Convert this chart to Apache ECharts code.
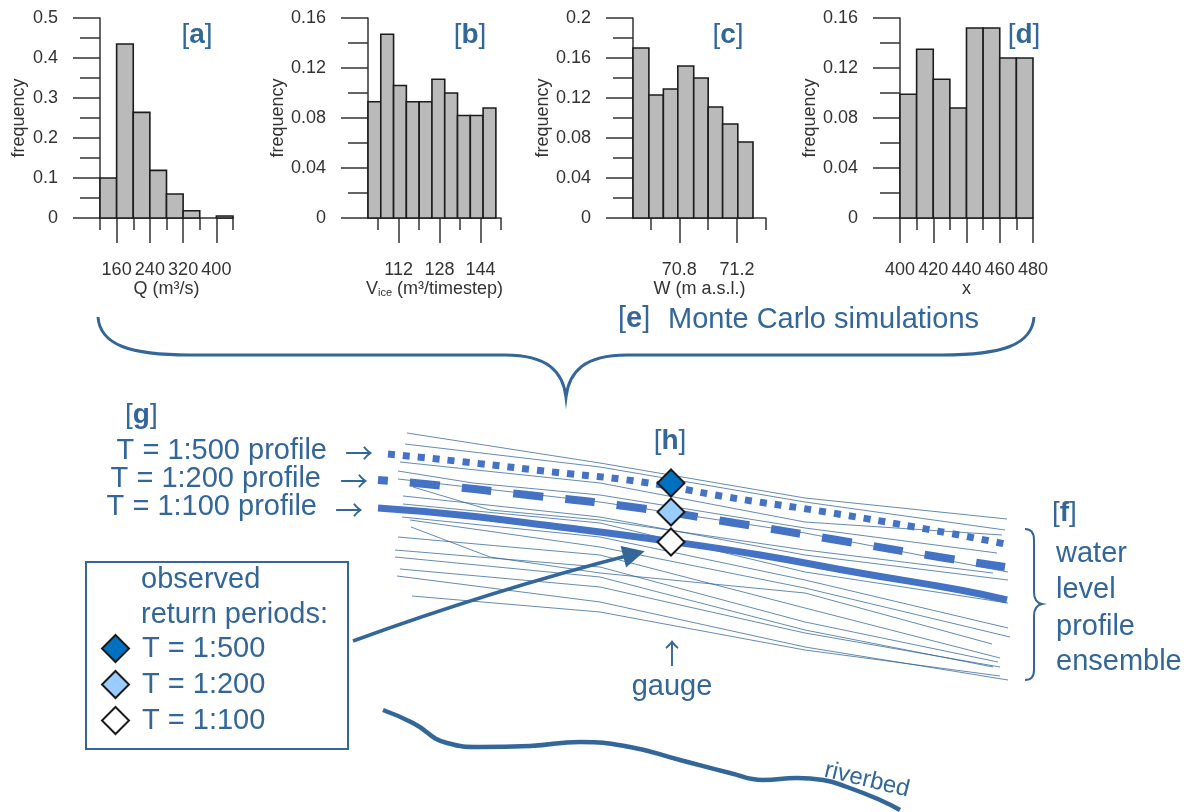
<!DOCTYPE html>
<html>
<head>
<meta charset="utf-8">
<script src="https://cdn.jsdelivr.net/npm/echarts@6/dist/echarts.min.js"></script>
<style>
html, body { margin: 0; padding: 0; background: #fff; }
#main { width: 1186px; height: 812px; }
</style>
</head>
<body>
<div id="main"></div>
<script>
// histogram bins: [from, to, frequency]
const binsQ = [[120, 160, 0.100], [160, 200, 0.435], [200, 240, 0.264], [240, 280, 0.119], [280, 320, 0.060], [320, 360, 0.018], [360, 400, 0], [400, 440, 0.005]];
const binsV = [[100, 105, 0.093], [105, 110, 0.147], [110, 115, 0.106], [115, 120, 0.093], [120, 125, 0.093], [125, 130, 0.111], [130, 135, 0.100], [135, 140, 0.082], [140, 145, 0.082], [145, 150, 0.088]];
const binsW = [[70.48, 70.59, 0.170], [70.59, 70.69, 0.123], [70.69, 70.79, 0.129], [70.79, 70.90, 0.152], [70.90, 71.00, 0.140], [71.00, 71.10, 0.111], [71.10, 71.205, 0.094], [71.205, 71.31, 0.076]];
const binsX = [[400, 410, 0.099], [410, 420, 0.135], [420, 430, 0.111], [430, 440, 0.088], [440, 450, 0.152], [450, 460, 0.152], [460, 470, 0.128], [470, 480, 0.128]];

// x ticks: labelled (long) and unlabelled (short)
const majorQ = [160, 240, 320, 400];
const minorQ = [120, 200, 280, 360, 440];
const majorV = [112, 128, 144];
const minorV = [104, 120, 136, 152];
const majorW = [70.8, 71.2];
const minorW = [70.6, 71.0, 71.4];
const majorX = [400, 420, 440, 460, 480];
const minorX = [410, 430, 450, 470];

// schematic (diagram units = pixels of the sketch, y downwards)
const ENSEMBLE = [
  [[407, 433], [600, 463], [805, 498], [1007, 519]],
  [[405, 444], [600, 467], [805, 502], [1005, 530]],
  [[400, 462], [600, 483], [805, 522], [1002, 535]],
  [[398, 471], [473, 483], [600, 495], [805, 528], [997, 553]],
  [[398, 479], [600, 502], [805, 533], [1008, 572]],
  [[413, 487], [490, 510], [600, 520], [805, 550], [993, 573]],
  [[403, 496], [600, 517], [805, 555], [1008, 580]],
  [[403, 504], [600, 523], [805, 572], [1008, 603]],
  [[402, 517], [600, 537], [805, 580], [1008, 628]],
  [[410, 520], [600, 547], [805, 588], [1010, 637]],
  [[411, 527], [490, 557], [600, 573], [805, 593], [992, 644]],
  [[398, 537], [600, 555], [805, 608], [1000, 658]],
  [[395, 550], [600, 567], [805, 622], [998, 662]],
  [[395, 557], [600, 577], [805, 630], [993, 667]],
  [[400, 569], [600, 587], [805, 633], [1000, 667]],
  [[397, 576], [600, 602], [805, 647], [1008, 680]],
  [[412, 596], [600, 612], [805, 650], [1000, 676]]
];
const profile500 = [[388, 454], [465, 462], [553, 472], [642, 482], [727, 497], [832, 513], [948, 533], [1010, 545]];
const profile200 = [[378, 480], [425, 484], [528, 495], [632, 507], [735, 523], [837, 540], [939, 557], [1005, 567]];
const profile100 = [[378, 508], [460, 515], [560, 527], [660, 540], [760, 555], [860, 573], [960, 590], [1007, 600]];
const obs500 = [[671, 483]];
const obs200 = [[671, 512]];
const obs100 = [[671, 542]];
const riverbed = [[383, 710], [413, 723], [447, 743], [480, 747], [530, 746], [580, 742], [630, 747], [680, 760], [730, 773], [763, 780], [797, 778], [823, 780], [847, 787], [880, 800], [900, 810]];
const pointer = [[353, 641], [634, 554]];
const BRACES = [
  [['M', 98, 317], ['C', 100, 345, 130, 355, 190, 355], ['L', 505, 355], ['C', 548, 355, 563, 372, 566, 397],
   ['C', 569, 372, 584, 355, 627, 355], ['L', 942, 355], ['C', 1002, 355, 1032, 345, 1034, 317]],
  [['M', 1025, 529], ['C', 1031, 529, 1034, 532, 1034, 540], ['L', 1034, 592], ['C', 1034, 600, 1037, 603, 1042, 604],
   ['C', 1037, 605, 1034, 608, 1034, 616], ['L', 1034, 670], ['C', 1034, 677, 1031, 680, 1025, 680]]
];

const BLUE = '#336699';
const LINEBLUE = '#4472c4';
const AX = '#333';
const FONT = '"Liberation Sans", Arial, "DejaVu Sans", sans-serif';
const ARROWFONT = '"Noto Sans CJK JP", "DejaVu Sans", sans-serif';

const panels = [
  { left: 100, xmin: 120, xmax: 440, ymax: 0.5, yint: 0.1, bins: binsQ, major: majorQ, minor: minorQ, name: 'Q (m³/s)', yGap: 72 },
  { left: 368, xmin: 100, xmax: 152, ymax: 0.16, yint: 0.04, bins: binsV, major: majorV, minor: minorV, name: 'V{s|ice} (m³/timestep)', yGap: 75 },
  { left: 633, xmin: 70.48, xmax: 71.4, ymax: 0.2, yint: 0.04, bins: binsW, major: majorW, minor: minorW, name: 'W (m a.s.l.)', yGap: 80 },
  { left: 900, xmin: 400, xmax: 480, ymax: 0.16, yint: 0.04, bins: binsX, major: majorX, minor: minorX, name: 'x', yGap: 81 }
];

const axLine = { color: AX, width: 1.5 };
const grid = [], xAxis = [], yAxis = [], series = [];

function barItem(params, api) {
  const a = api.coord([api.value(0), api.value(2)]);
  const b = api.coord([api.value(1), 0]);
  return {
    type: 'rect',
    shape: { x: a[0], y: a[1], width: b[0] - a[0], height: b[1] - a[1] },
    style: { fill: '#bababa', stroke: '#1c1c1c', lineWidth: 1.6 }
  };
}

panels.forEach((p, i) => {
  grid.push({ left: p.left, top: 18, width: 133, height: 200, containLabel: false, outerBoundsMode: 'none' });
  xAxis.push({
    type: 'value', gridIndex: i, position: 'bottom', min: p.xmin, max: p.xmax,
    axisLine: { show: true, onZero: false, lineStyle: axLine },
    axisTick: { show: true, length: 12, customValues: p.minor, lineStyle: axLine },
    axisLabel: { customValues: p.major, margin: 43, fontSize: 18, fontFamily: FONT, color: AX },
    splitLine: { show: false },
    name: p.name, nameLocation: 'middle', nameGap: 60,
    nameTextStyle: { fontSize: 18, fontFamily: FONT, color: AX, rich: { s: { fontSize: 11, fontFamily: FONT, color: AX, padding: [9, 0, 0, 0] } } }
  });
  xAxis.push({
    type: 'value', gridIndex: i, position: 'bottom', min: p.xmin, max: p.xmax,
    axisLine: { show: false },
    axisTick: { show: true, length: 25, customValues: p.major, lineStyle: axLine },
    axisLabel: { show: false },
    splitLine: { show: false }
  });
  yAxis.push({
    type: 'value', gridIndex: i, min: 0, max: p.ymax, interval: p.yint,
    axisLine: { show: true, lineStyle: axLine },
    axisTick: { show: true, length: 27, lineStyle: axLine },
    minorTick: { show: true, splitNumber: 2, length: 20, lineStyle: axLine },
    axisLabel: { margin: 42, fontSize: 18, fontFamily: FONT, color: AX },
    splitLine: { show: false },
    name: 'frequency', nameLocation: 'middle', nameGap: p.yGap,
    nameTextStyle: { fontSize: 18, fontFamily: FONT, color: AX }
  });
  series.push({
    type: 'custom', xAxisIndex: 2 * i, yAxisIndex: i,
    renderItem: barItem, encode: { x: [0, 1], y: 2 },
    data: p.bins.filter(b => b[2] > 0)
  });
});

// schematic coordinate system
grid.push({ left: 0, top: 0, width: 1186, height: 812, containLabel: false, outerBoundsMode: 'none' });
xAxis.push({ type: 'value', gridIndex: 4, min: 0, max: 1186, show: false });
yAxis.push({ type: 'value', gridIndex: 4, min: 0, max: 812, inverse: true, show: false });
const DX = 8, DY = 4;

function braceItem(params, api) {
  let d = '';
  BRACES[params.dataIndex].forEach(c => {
    d += c[0];
    for (let k = 1; k < c.length; k += 2) {
      const pt = api.coord([c[k], c[k + 1]]);
      d += ' ' + pt[0] + ' ' + pt[1];
    }
    d += ' ';
  });
  return {
    type: 'path', shape: { pathData: d },
    style: { fill: 'none', stroke: BLUE, lineWidth: params.dataIndex === 0 ? 3 : 2 }
  };
}

const diamondStyle = (fill) => ({ color: fill, borderColor: '#1a1a1a', borderWidth: 2, opacity: 1 });

series.push(
  {
    type: 'custom', xAxisIndex: DX, yAxisIndex: DY, clip: false,
    renderItem: braceItem, encode: { x: 0, y: 1 },
    data: BRACES.map(b => [b[0][1], b[0][2]])
  },
  {
    type: 'lines', coordinateSystem: 'cartesian2d', xAxisIndex: DX, yAxisIndex: DY, polyline: true, z: 1,
    lineStyle: { color: BLUE, width: 0.9, opacity: 0.85 },
    data: ENSEMBLE.map(c => ({ coords: c }))
  },
  {
    type: 'line', xAxisIndex: DX, yAxisIndex: DY, smooth: true, symbol: 'none', z: 3,
    lineStyle: { color: LINEBLUE, width: 7, type: [7, 8], cap: 'butt' }, data: profile500
  },
  {
    type: 'line', xAxisIndex: DX, yAxisIndex: DY, smooth: true, symbol: 'none', z: 3,
    lineStyle: { color: LINEBLUE, width: 8, type: [30, 22], dashOffset: 20, cap: 'butt' }, data: profile200
  },
  {
    type: 'line', xAxisIndex: DX, yAxisIndex: DY, smooth: true, symbol: 'none', z: 3,
    lineStyle: { color: LINEBLUE, width: 7 }, data: profile100
  },
  {
    type: 'line', xAxisIndex: DX, yAxisIndex: DY, smooth: true, symbol: 'none', z: 3,
    lineStyle: { color: BLUE, width: 4.5 }, data: riverbed
  },
  {
    type: 'lines', coordinateSystem: 'cartesian2d', xAxisIndex: DX, yAxisIndex: DY, z: 4,
    symbol: ['none', 'triangle'], symbolSize: 22,
    lineStyle: { color: BLUE, width: 3.5, curveness: 0.025, opacity: 1 },
    data: [{ coords: pointer }]
  },
  {
    type: 'scatter', name: 'T = 1:500', xAxisIndex: DX, yAxisIndex: DY, z: 10, symbol: 'diamond', symbolSize: 27,
    itemStyle: diamondStyle('#0070c0'), data: obs500
  },
  {
    type: 'scatter', name: 'T = 1:200', xAxisIndex: DX, yAxisIndex: DY, z: 10, symbol: 'diamond', symbolSize: 27,
    itemStyle: diamondStyle('#99ccff'), data: obs200
  },
  {
    type: 'scatter', name: 'T = 1:100', xAxisIndex: DX, yAxisIndex: DY, z: 10, symbol: 'diamond', symbolSize: 27,
    itemStyle: diamondStyle('#ffffff'), data: obs100
  }
);

function txt(x, y, text, o) {
  o = o || {};
  return {
    type: 'text', x: x, y: y, rotation: o.rotation || 0, z: 20,
    style: {
      text: text, fill: BLUE, fontSize: o.size || 29, fontFamily: o.font || FONT,
      textAlign: o.align || 'left', textVerticalAlign: 'middle',
      rich: { b: { fontWeight: 'bold', fontSize: o.size || 29, fontFamily: FONT, fill: BLUE } }
    }
  };
}

const graphic = [
  txt(197, 35, '[{b|a}]', { size: 28, align: 'center' }),
  txt(470, 35, '[{b|b}]', { size: 28, align: 'center' }),
  txt(728, 35, '[{b|c}]', { size: 28, align: 'center' }),
  txt(1024, 35, '[{b|d}]', { size: 28, align: 'center' }),
  txt(618, 319, '[{b|e}]'),
  txt(668, 320, 'Monte Carlo simulations'),
  txt(125, 415, '[{b|g}]', { size: 28 }),
  txt(327, 451, 'T = 1:500 profile', { align: 'right' }),
  txt(321, 479, 'T = 1:200 profile', { align: 'right' }),
  txt(317, 507, 'T = 1:100 profile', { align: 'right' }),
  txt(359, 453, '→', { align: 'center', size: 28, font: ARROWFONT }),
  txt(354, 481, '→', { align: 'center', size: 28, font: ARROWFONT }),
  txt(349, 510, '→', { align: 'center', size: 28, font: ARROWFONT }),
  txt(670, 441, '[{b|h}]', { size: 28, align: 'center' }),
  txt(672, 653, '↑', { align: 'center', size: 28, font: ARROWFONT }),
  txt(672, 687, 'gauge', { align: 'center' }),
  txt(1052, 513, '[{b|f}]', { size: 28 }),
  txt(1056, 554, 'water'),
  txt(1056, 590, 'level'),
  txt(1056, 627, 'profile'),
  txt(1056, 662, 'ensemble'),
  txt(141, 580, 'observed'),
  txt(141, 615, 'return periods:'),
  txt(867, 780, 'riverbed', { size: 24, align: 'center', rotation: -0.24 }),
  {
    type: 'rect', z: 19, shape: { x: 86, y: 562, width: 262, height: 187 },
    style: { fill: 'rgba(255,255,255,0)', stroke: BLUE, lineWidth: 2 }
  }
];

const option = {
  backgroundColor: '#fff',
  animation: false,
  grid: grid,
  xAxis: xAxis,
  yAxis: yAxis,
  legend: {
    left: 101, top: 634, orient: 'vertical', itemWidth: 27, itemHeight: 27, itemGap: 7,
    selectedMode: false, padding: 0, icon: 'diamond', symbolKeepAspect: true,
    data: ['T = 1:500', 'T = 1:200', 'T = 1:100'],
    textStyle: { fontSize: 29, fontFamily: FONT, color: BLUE, padding: [0, 0, 0, 8] }
  },
  graphic: graphic,
  series: series
};

const chart = echarts.init(document.getElementById('main'));
chart.setOption(option);
</script>
</body>
</html>
